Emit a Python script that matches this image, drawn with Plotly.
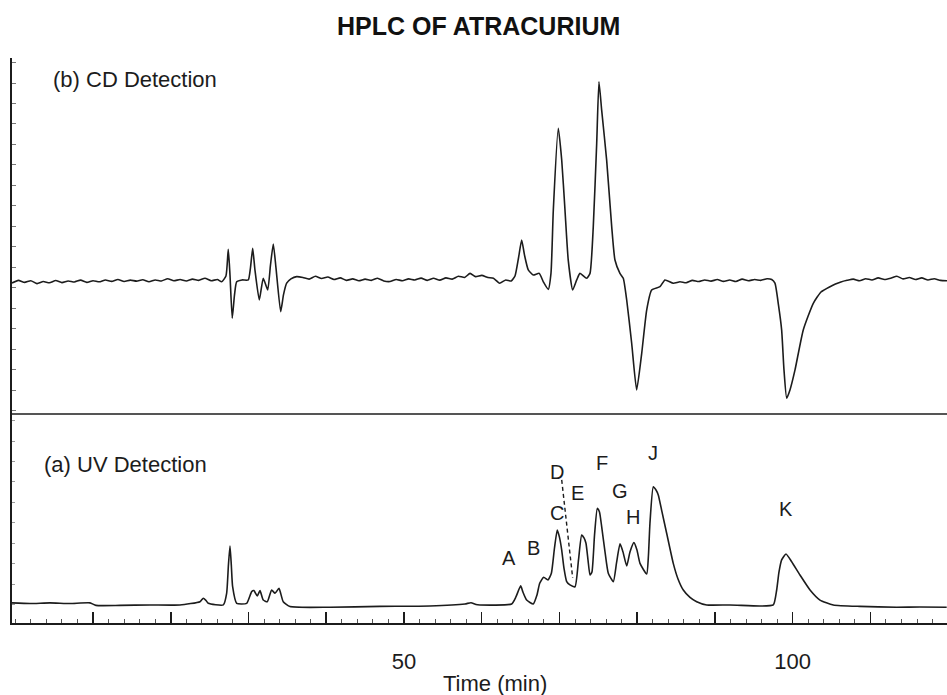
import plotly.graph_objects as go

# ---------------- data ----------------
cd_time = [
    -0.42, 0.4, 1.2, 2.0, 2.8, 3.6, 4.4, 5.2, 6.0, 6.8, 7.6, 8.4, 9.2, 10.0, 10.8, 11.6,
    12.4, 13.2, 14.0, 14.8, 15.6, 16.4, 17.2, 18.0, 18.8, 19.6, 20.4, 21.2, 22.0, 22.8,
    23.6, 24.4, 25.2, 26.0,
    26.55, 27.10, 27.40, 27.62, 27.91, 28.20, 28.48, 29.16, 29.97, 30.25, 30.54, 30.83,
    31.39, 31.90, 32.47, 32.83, 33.19, 33.54, 34.14, 34.50, 34.91, 35.46, 36.20,
    37.0, 37.8, 38.6, 39.4, 40.2, 41.0, 41.8, 42.6, 43.4, 44.2, 45.0, 45.8, 46.6, 47.4,
    48.2, 49.0, 49.8, 50.6, 51.4, 52.2, 53.0, 53.8, 54.6, 55.4, 56.2, 57.0, 57.8, 58.5,
    59.2, 60.0, 60.8, 61.5, 62.3, 63.1, 63.8,
    64.28, 64.73, 65.14, 65.50, 65.99, 66.63, 67.40, 67.92, 68.56, 68.91, 69.21, 69.85,
    70.29, 70.71, 71.13, 71.70, 72.22, 72.64, 73.50, 73.93, 74.35, 74.79, 75.08, 75.43,
    76.07, 76.72, 77.14, 77.78, 78.21, 78.65, 79.29, 79.93, 80.58, 81.22, 81.86, 82.93,
    83.57, 84.64, 85.50,
    86.3, 87.1, 87.9, 88.7, 89.5, 90.3, 91.1, 91.9, 92.7, 93.5, 94.3, 95.1, 95.9, 96.7,
    97.3, 97.72,
    98.17, 98.58, 98.88, 99.23, 99.65, 100.30, 101.36, 102.65, 103.64, 104.80,
    105.5, 106.2, 107.0, 107.8, 108.6, 109.4, 110.2, 111.0, 111.8, 112.6, 113.4, 114.2,
    115.0, 115.8, 116.6, 117.4, 118.2, 119.0, 119.85,
]
cd_signal = [
    -0.05, 0.08, -0.02, 0.06, -0.08, 0.02, -0.04, 0.07, -0.03, 0.05, 0.00, 0.09, -0.02, 0.06, 0.01, 0.10,
    0.03, 0.12, 0.02, 0.09, 0.04, 0.11, 0.01, 0.10, 0.05, 0.16, 0.06, 0.12, 0.05, 0.14,
    0.08, 0.18, 0.06, 0.12,
    0.01, 0.29, 1.60, 0.34, -1.77, -0.63, 0.01, 0.10, 0.10, 0.68, 1.64, 0.59,
    -0.88, 0.18, -0.39, 0.83, 1.85, 0.68, -1.45, -0.63, -0.06, 0.15, 0.26,
    0.22, 0.14, 0.28, 0.17, 0.24, 0.12, 0.20, 0.08, 0.15, 0.06, 0.14, 0.08, 0.18, 0.05,
    0.02, 0.12, 0.06, 0.15, 0.10, 0.19, 0.08, 0.18, 0.09, 0.20, 0.14, 0.28, 0.22, 0.42,
    0.26, 0.32, 0.22, 0.18, -0.06, 0.10, 0.05,
    0.29, 1.17, 2.05, 1.32, 0.59, 0.34, 0.42, 0.01, -0.36, 0.42, 3.51, 7.50,
    5.95, 3.51, 1.07, -0.39, 0.10, 0.42, 0.18, 0.42, 2.70, 6.77, 9.77, 8.39,
    5.95, 2.70, 1.07, 0.42, 0.18, -0.88, -2.99, -5.27, -3.48, -1.37, -0.39, -0.23,
    0.10, -0.06, 0.01,
    -0.04, 0.08, 0.02, 0.10, 0.04, 0.12, 0.03, 0.10, 0.02, 0.14, 0.06, 0.12, 0.08, 0.16,
    0.12, -0.06,
    -1.12, -2.34, -4.29, -5.67, -5.27, -4.29, -2.34, -1.04, -0.49, -0.23,
    -0.10, 0.00, 0.08, 0.14, 0.06, 0.16, 0.10, 0.20, 0.12, 0.18, 0.28, 0.15,
    0.22, 0.12, 0.20, 0.10, 0.16, 0.08, 0.06,
]

uv_time = [
    -0.42, 1.89, 4.46, 7.04, 9.61, 10.38, 13.47, 17.33, 21.18, 23.76, 24.18, 24.53, 24.83,
    26.76, 27.19, 27.42, 27.62, 27.79, 27.96, 28.48, 29.77, 30.41, 30.70, 31.13, 31.48,
    31.90, 32.42, 32.98, 33.41, 33.92, 34.47, 35.34, 40.48, 46.91, 53.34, 57.85, 58.62,
    59.26, 59.77, 63.85, 64.40, 65.01, 65.30, 65.78, 66.63, 67.11, 67.46, 67.97, 68.52,
    68.96, 69.36, 69.72, 69.99, 70.29, 70.58, 70.93, 71.35, 72.00, 72.45, 72.86, 73.16,
    73.41, 73.67, 73.93, 74.18, 74.51, 74.87, 75.15, 75.43, 75.86, 76.28, 76.93, 77.34,
    77.79, 78.17, 78.65, 79.07, 79.58, 79.97, 80.36, 81.22, 81.45, 81.64, 82.07, 82.42,
    82.71, 83.19, 83.79, 84.64, 85.25, 85.93, 86.79, 87.65, 88.94, 91.93, 95.79, 97.51,
    97.94, 98.24, 98.58, 99.14, 99.87, 100.94, 102.23, 103.51, 105.22, 108.65, 113.38,
    116.37, 119.81,
]
uv_signal = [
    0.10, 0.07, 0.10, 0.07, 0.10, -0.02, -0.02, 0.00, 0.00, 0.16, 0.33, 0.22, 0.08,
    0.00, 0.57, 1.95, 2.88, 1.95, 0.89, 0.08, 0.08, 0.65, 0.70, 0.44, 0.70,
    0.24, 0.16, 0.73, 0.57, 0.81, 0.16, -0.08, -0.11, -0.07, -0.05, 0.05, 0.11,
    0.02, 0.00, 0.05, 0.39, 0.93, 0.63, 0.24, 0.05, 0.49, 1.06, 1.35, 1.22,
    1.55, 2.78, 3.66, 3.32, 2.68, 1.80, 1.14, 0.98, 0.89, 2.20, 3.41, 3.27,
    3.01, 2.20, 1.46, 1.61, 3.41, 4.72, 4.54, 3.82, 2.59, 1.55, 1.14, 2.05,
    2.98, 2.59, 1.90, 2.59, 3.04, 2.68, 2.03, 1.51, 2.44, 3.99, 5.77, 5.61,
    5.37, 4.54, 3.50, 2.03, 1.27, 0.73, 0.37, 0.16, 0.00, 0.00, -0.05, 0.00,
    0.73, 1.61, 2.20, 2.49, 2.11, 1.46, 0.73, 0.24, 0.00, -0.07, -0.11,
    -0.10, -0.11,
]

peak_names = ["A", "B", "C", "D", "E", "F", "G", "H", "J", "K"]
peak_label_time = [63.55, 66.72, 69.72, 69.72, 72.36, 75.43, 77.79, 79.50, 82.00, 99.14]
peak_label_signal = [2.27, 2.80, 4.47, 6.50, 5.48, 6.94, 5.58, 4.28, 7.43, 4.66]

dash_time = [70.29, 71.70]
dash_signal = [6.10, 1.32]

x_major_ticks = [10, 20, 30, 40, 50, 60, 70, 80, 90, 100, 110]
x_tick_text = ["", "", "", "", "50", "", "", "", "", "100", ""]

# ---------------- figure ----------------
INK = "#1c1c1c"
FONT = "Liberation Sans, Arial, Helvetica, sans-serif"
SPLIT = 0.37
FIG_W, FIG_H = 947, 695
PLOT_LEFT, PLOT_TOP, PLOT_W, PLOT_H = 12, 58, 935, 565


def px_x(px):
    return (px - PLOT_LEFT) / PLOT_W


def px_y(py):
    return (PLOT_TOP + PLOT_H - py) / PLOT_H


fig = go.Figure()
fig.add_trace(go.Scatter(x=cd_time, y=cd_signal, mode="lines", xaxis="x", yaxis="y",
                         line=dict(color=INK, width=1.6, shape="spline", smoothing=0.5),
                         showlegend=False, hoverinfo="skip"))
fig.add_trace(go.Scatter(x=uv_time, y=uv_signal, mode="lines", xaxis="x", yaxis="y2",
                         line=dict(color=INK, width=1.6, shape="spline", smoothing=0.5),
                         showlegend=False, hoverinfo="skip"))
fig.add_trace(go.Scatter(x=dash_time, y=dash_signal, mode="lines", xaxis="x", yaxis="y2",
                         line=dict(color=INK, width=1.4, dash="4px,3px"),
                         showlegend=False, hoverinfo="skip"))

annotations = []
for name, t, v in zip(peak_names, peak_label_time, peak_label_signal):
    annotations.append(dict(x=t, y=v, xref="x", yref="y2", text=name, showarrow=False,
                            font=dict(family=FONT, size=20, color=INK),
                            xanchor="center", yanchor="middle"))

annotations += [
    dict(x=px_x(478), y=px_y(26), xref="paper", yref="paper", text="<b>HPLC OF ATRACURIUM</b>",
         showarrow=False, font=dict(family=FONT, size=25, color="#111"),
         xanchor="center", yanchor="middle"),
    dict(x=px_x(51), y=px_y(80), xref="paper", yref="paper",
         text="(b) CD Detection", showarrow=False,
         font=dict(family=FONT, size=22, color=INK), xanchor="left", yanchor="middle"),
    dict(x=px_x(42), y=px_y(465), xref="paper", yref="paper",
         text="(a) UV Detection", showarrow=False,
         font=dict(family=FONT, size=22, color=INK), xanchor="left", yanchor="middle"),
    dict(x=px_x(495), y=px_y(683), xref="paper", yref="paper",
         text="Time (min)", showarrow=False,
         font=dict(family=FONT, size=22, color=INK), xanchor="center", yanchor="middle"),
]

fig.update_layout(
    width=FIG_W, height=FIG_H,
    margin=dict(l=PLOT_LEFT, r=FIG_W - PLOT_LEFT - PLOT_W, t=PLOT_TOP,
                b=FIG_H - PLOT_TOP - PLOT_H),
    autosize=False,
    paper_bgcolor="white", plot_bgcolor="white",
    font=dict(family=FONT, color=INK),
    annotations=annotations,
    shapes=[dict(type="line", xref="paper", yref="paper", x0=0, x1=1, y0=SPLIT, y1=SPLIT,
                 line=dict(color=INK, width=1.6))],
    xaxis=dict(
        range=[-0.42, 119.85], anchor="y2", automargin=False,
        showgrid=False, zeroline=False,
        showline=True, linecolor=INK, linewidth=2,
        tickmode="array", tickvals=x_major_ticks, ticktext=x_tick_text,
        ticks="inside", ticklen=11, tickwidth=1.5, tickcolor=INK,
        tickfont=dict(family=FONT, size=22, color=INK),
        ticklabelstandoff=18,
        minor=dict(tickmode="linear", tick0=0, dtick=2, ticks="inside", ticklen=4,
                   tickwidth=1, tickcolor="#555"),
    ),
    yaxis=dict(
        domain=[SPLIT, 1], range=[-6.44, 10.93], anchor="x", automargin=False,
        showgrid=False, zeroline=False,
        showline=True, linecolor=INK, linewidth=2,
        tickmode="linear", tick0=-0.29, dtick=1,
        ticks="inside", ticklen=4, tickwidth=1, tickcolor="#777",
        showticklabels=False,
    ),
    yaxis2=dict(
        domain=[0, SPLIT], range=[-0.88, 9.32], anchor="x", automargin=False,
        showgrid=False, zeroline=False,
        showline=True, linecolor=INK, linewidth=2,
        tickmode="linear", tick0=0, dtick=1,
        ticks="inside", ticklen=3, tickwidth=1, tickcolor="#999",
        showticklabels=False,
    ),
)

# remove the page's default 8 px body margin so the figure fills the window exactly
page_fix = ("document.documentElement.style.margin='0';"
            "document.body.style.margin='0';"
            "document.body.style.overflow='hidden';")
fig.write_html("out.html", post_script=page_fix,
               config={"displayModeBar": False, "staticPlot": True})
